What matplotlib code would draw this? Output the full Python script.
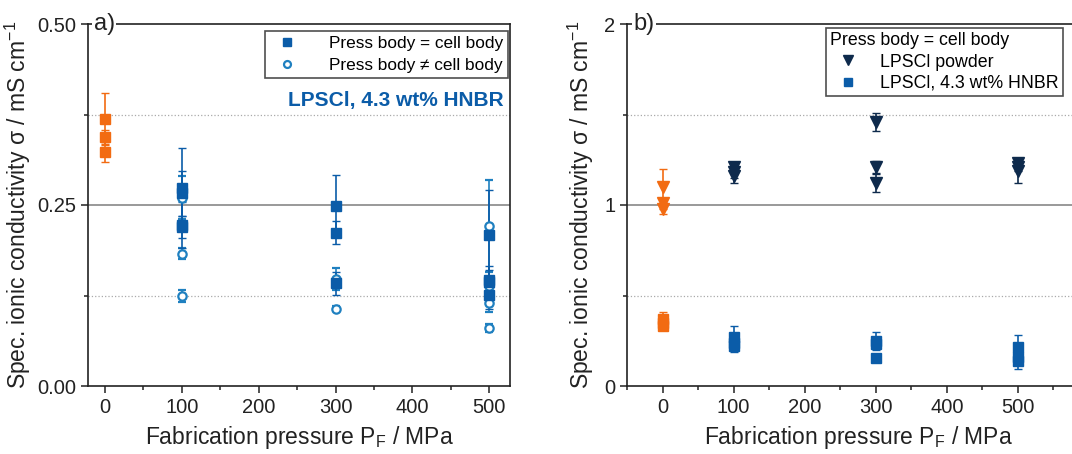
import matplotlib.pyplot as plt
import numpy as np
from matplotlib.ticker import MultipleLocator
from matplotlib.lines import Line2D

plt.rcParams['font.family'] = ['Liberation Sans', 'DejaVu Sans']

ORANGE = '#f26b12'
BLUE = '#0b5ca8'
LIGHTBLUE = '#1f80c0'
NAVY = '#0e2a4c'
TXT = '#222222'

# Panel a) LPSCl, 4.3 wt% HNBR
a_ref_x = [0, 0, 0]
a_ref_y = [0.369, 0.344, 0.323]
a_ref_err = [0.036, 0.010, 0.014]

a_eq_x = [100, 100, 100, 100, 300, 300, 300, 500, 500, 500, 500]
a_eq_y = [0.273, 0.266, 0.222, 0.220, 0.249, 0.212, 0.142, 0.208, 0.146, 0.143, 0.126]
a_eq_err = [0.056, 0.031, 0.032, 0.015, 0.043, 0.016, 0.016, 0.063, 0.020, 0.017, 0.020]

a_ne_x = [100, 100, 100, 300, 300, 500, 500, 500, 500]
a_ne_y = [0.260, 0.183, 0.124, 0.148, 0.107, 0.221, 0.138, 0.114, 0.080]
a_ne_err = [0.030, 0.008, 0.008, 0.015, 0.003, 0.064, 0.010, 0.012, 0.005]

# Panel b)
b_ref_tri_x = [0, 0, 0]
b_ref_tri_y = [1.10, 1.01, 0.98]
b_ref_tri_err = [0.10, 0.03, 0.03]

b_ref_sq_x = [0, 0, 0]
b_ref_sq_y = [0.37, 0.35, 0.33]
b_ref_sq_err = [0.04, 0.02, 0.02]

b_pow_x = [100, 100, 100, 300, 300, 300, 500, 500, 500]
b_pow_y = [1.21, 1.18, 1.16, 1.46, 1.21, 1.12, 1.23, 1.21, 1.19]
b_pow_err = [0.03, 0.03, 0.04, 0.05, 0.035, 0.05, 0.02, 0.02, 0.07]

b_hnbr_x = [100, 100, 100, 300, 300, 300, 500, 500, 500]
b_hnbr_y = [0.27, 0.24, 0.22, 0.25, 0.23, 0.155, 0.215, 0.16, 0.14]
b_hnbr_err = [0.06, 0.03, 0.03, 0.05, 0.02, 0.01, 0.065, 0.03, 0.045]

x_ticks = [0, 100, 200, 300, 400, 500]

fig = plt.figure(figsize=(10.72, 4.54), dpi=100)
ax1 = fig.add_axes([88 / 1072, 1 - 386 / 454, 422 / 1072, 362 / 454])
ax2 = fig.add_axes([627 / 1072, 1 - 386 / 454, 462 / 1072, 362 / 454])

ebkw = dict(linestyle='none', elinewidth=1.2, capsize=3, capthick=1.0)

# --- panel a
ax1.axhline(0.25, color='#888888', lw=1.2, zorder=0)
for yv in (0.125, 0.375):
    ax1.axhline(yv, color='#aaaaaa', lw=0.9, ls=':', zorder=0)
ax1.errorbar(a_ref_x, a_ref_y, yerr=a_ref_err, marker='s', ms=7, color=ORANGE, **ebkw)
ax1.errorbar(a_ne_x, a_ne_y, yerr=a_ne_err, marker='o', ms=6, mfc='white', mew=1.6,
             color=LIGHTBLUE, **ebkw)
ax1.errorbar(a_eq_x, a_eq_y, yerr=a_eq_err, marker='s', ms=7, color=BLUE, **ebkw)
ax1.set_xlim(-22, 527)
ax1.set_ylim(0, 0.5)
ax1.set_yticks([0, 0.25, 0.5])
ax1.set_yticklabels(['0.00', '0.25', '0.50'])
ax1.yaxis.set_minor_locator(MultipleLocator(0.125))
h1 = [Line2D([], [], ls='none', marker='s', ms=6, color=BLUE),
      Line2D([], [], ls='none', marker='o', ms=5, mfc='white', mew=1.6, color=LIGHTBLUE)]
leg1 = ax1.legend(h1, ['Press body = cell body', 'Press body \u2260 cell body'],
                  loc='upper right', bbox_to_anchor=(0.995, 0.98), fontsize=12.4,
                  frameon=True, fancybox=False, edgecolor='#222222', handletextpad=1.4,
                  borderaxespad=0.0, labelspacing=0.35, borderpad=0.3)
leg1.get_frame().set_linewidth(1.2)
ax1.text(0.985, 0.79, 'LPSCl, 4.3 wt% HNBR', transform=ax1.transAxes, ha='right',
         va='center', fontsize=15, fontweight='bold', color=BLUE)
ax1.text(0.014, 1.0, 'a)', transform=ax1.transAxes, ha='left', va='center', fontsize=17,
         color=TXT, bbox=dict(facecolor='white', edgecolor='none', pad=1))

# --- panel b
ax2.axhline(1.0, color='#888888', lw=1.2, zorder=0)
for yv in (0.5, 1.5):
    ax2.axhline(yv, color='#aaaaaa', lw=0.9, ls=':', zorder=0)
ax2.errorbar(b_ref_tri_x, b_ref_tri_y, yerr=b_ref_tri_err, marker='v', ms=8, color=ORANGE, **ebkw)
ax2.errorbar(b_ref_sq_x, b_ref_sq_y, yerr=b_ref_sq_err, marker='s', ms=7, color=ORANGE, **ebkw)
ax2.errorbar(b_pow_x, b_pow_y, yerr=b_pow_err, marker='v', ms=8, color=NAVY, **ebkw)
ax2.errorbar(b_hnbr_x, b_hnbr_y, yerr=b_hnbr_err, marker='s', ms=7, color=BLUE, **ebkw)
ax2.set_xlim(-50, 600)
ax2.set_ylim(0, 2)
ax2.set_yticks([0, 1, 2])
ax2.yaxis.set_minor_locator(MultipleLocator(0.5))
h2 = [Line2D([], [], ls='none', marker='v', ms=7, color=NAVY),
      Line2D([], [], ls='none', marker='s', ms=5.5, color=BLUE)]
leg2 = ax2.legend(h2, ['LPSCl powder', 'LPSCl, 4.3 wt% HNBR'], loc='upper left',
                  bbox_to_anchor=(0.43, 0.99), fontsize=12.8,
                  title='Press body = cell body', title_fontsize=12.8, frameon=True,
                  fancybox=False, edgecolor='#222222', handletextpad=0.8,
                  borderaxespad=0.0, labelspacing=0.25, borderpad=0.25)
leg2._legend_box.align = 'left'
leg2.get_frame().set_linewidth(1.2)
ax2.text(0.013, 1.0, 'b)', transform=ax2.transAxes, ha='left', va='center', fontsize=17,
         color=TXT, bbox=dict(facecolor='white', edgecolor='none', pad=1))

for ax in (ax1, ax2):
    ax.set_xticks(x_ticks)
    ax.xaxis.set_minor_locator(MultipleLocator(50))
    ax.tick_params(which='both', direction='out', labelsize=14.5, colors=TXT, width=1.1)
    ax.tick_params(which='major', length=5)
    ax.tick_params(which='minor', length=3)
    for s in ax.spines.values():
        s.set_linewidth(1.2)
        s.set_color('#222222')
    ax.set_xlabel('Fabrication pressure P$_\\mathregular{F}$ / MPa', fontsize=16.5,
                  color=TXT, labelpad=5)
ax1.set_ylabel('Spec. ionic conductivity \u03c3 / mS cm$^\\mathregular{-1}$', fontsize=16.5,
               color=TXT, labelpad=3)
ax2.set_ylabel('Spec. ionic conductivity \u03c3 / mS cm$^\\mathregular{-1}$', fontsize=16.5,
               color=TXT, labelpad=6)

fig.savefig('out.png', dpi=100)
